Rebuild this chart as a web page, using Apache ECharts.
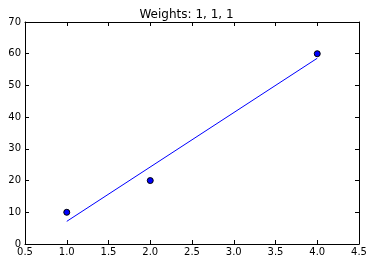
<!DOCTYPE html>
<html><head><meta charset="utf-8">
<script src="https://cdn.jsdelivr.net/npm/echarts@6/dist/echarts.min.js"></script>
<style>html,body{margin:0;padding:0;background:#fff}#c{width:373px;height:266px}</style>
</head><body><div id="c"></div>
<script>
const title = "Weights: 1, 1, 1";
const pointX = [1, 2, 4];
const pointY = [10, 20, 60];
const fitX = [1, 4];
const fitY = [7.14, 58.57];

const font = "DejaVu Sans";
const tick = {show: true, inside: true, length: 4, lineStyle: {color: '#000', width: 1}};
const line = {show: true, onZero: false, lineStyle: {color: '#000', width: 1}};
const chart = echarts.init(document.getElementById('c'), null, {renderer: 'canvas'});
chart.setOption({
  animation: false,
  backgroundColor: '#fff',
  title: {text: title, left: 'center', top: 4, textStyle: {fontFamily: font, fontSize: 12, fontWeight: 'normal', color: '#000'}},
  grid: {left: 25, right: 14, top: 22, bottom: 22},
  xAxis: [
    {type: 'value', min: 0.5, max: 4.5, interval: 0.5, axisLine: line, axisTick: tick, splitLine: {show: false},
     axisLabel: {fontFamily: font, fontSize: 10, color: '#000', margin: 3, formatter: v => v.toFixed(1)}},
    {type: 'value', position: 'top', min: 0.5, max: 4.5, interval: 0.5, axisLine: line, axisTick: tick, splitLine: {show: false}, axisLabel: {show: false}}
  ],
  yAxis: [
    {type: 'value', min: 0, max: 70, interval: 10, axisLine: line, axisTick: tick, splitLine: {show: false},
     axisLabel: {fontFamily: font, fontSize: 10, color: '#000', margin: 4}},
    {type: 'value', position: 'right', min: 0, max: 70, interval: 10, axisLine: line, axisTick: tick, splitLine: {show: false}, axisLabel: {show: false}}
  ],
  series: [
    {type: 'line', data: fitX.map((x, i) => [x, fitY[i]]), showSymbol: false, symbol: 'none', lineStyle: {color: '#0000ff', width: 1}},
    {type: 'scatter', data: pointX.map((x, i) => [x, pointY[i]]), symbol: 'circle', symbolSize: 6, itemStyle: {color: '#0000ff', opacity: 1, borderColor: '#000', borderWidth: 1}}
  ]
});
</script></body></html>
